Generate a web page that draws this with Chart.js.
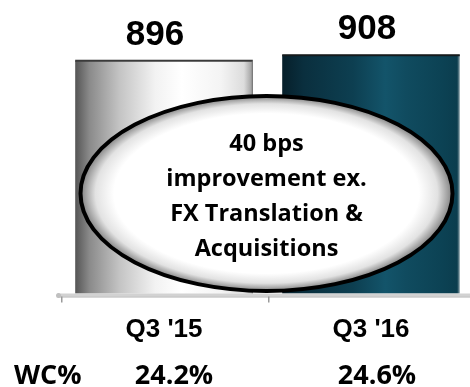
<!DOCTYPE html>
<html>
<head>
<meta charset="utf-8">
<script src="https://cdn.jsdelivr.net/npm/chart.js@4/dist/chart.umd.min.js"></script>
<style>
  html, body { margin: 0; padding: 0; background: #ffffff; overflow: hidden; }
  #wrap { position: relative; width: 480px; height: 387px; }
</style>
</head>
<body>
<div id="wrap"><canvas id="chart" width="480" height="387"></canvas></div>
<script>
// Working capital by quarter
const categories = ["Q3 '15", "Q3 '16"];
const workingCapital = [896, 908];
const wcPercent = ["24.2%", "24.6%"];
const rowLabel = "WC%";
const calloutLines = ["40 bps", "improvement ex.", "FX Translation &", "Acquisitions"];

const BODY_FONT = '"Open Sans", "Noto Sans", sans-serif';

function barGradient(ctx, left, right, stops) {
  const g = ctx.createLinearGradient(left, 0, right, 0);
  stops.forEach(s => g.addColorStop(s[0], s[1]));
  return g;
}

const greyStops = [
  [0, '#555555'], [0.08, '#8a8a8a'], [0.25, '#c4c4c4'], [0.45, '#f2f2f2'],
  [0.6, '#ffffff'], [0.82, '#f4f4f4'], [0.95, '#dcdcdc'], [1, '#9a9a9a']
];
const tealStops = [
  [0, '#061f2a'], [0.12, '#0a2f3e'], [0.4, '#0d3f51'], [0.58, '#13546a'],
  [0.7, '#104b5f'], [0.9, '#0c4254'], [0.985, '#0b3d4e'], [1, '#8aa0a8']
];

const fillPlugin = {
  id: 'barFill',
  beforeDatasetsDraw(chart) {
    const meta = chart.getDatasetMeta(0);
    meta.data.forEach((bar, i) => {
      const l = bar.x - bar.width / 2, r = bar.x + bar.width / 2;
      bar.options.backgroundColor = barGradient(chart.ctx, l, r, i === 0 ? greyStops : tealStops);
    });
  }
};

const decorPlugin = {
  id: 'decor',
  afterDatasetsDraw(chart) {
    const ctx = chart.ctx;
    const area = chart.chartArea;
    const xs = chart.scales.x;
    const ys = chart.scales.y;
    const meta = chart.getDatasetMeta(0);

    // dark top edge on each bar
    ctx.save();
    meta.data.forEach((bar, i) => {
      const l = bar.x - bar.width / 2;
      ctx.fillStyle = i === 0 ? '#3a3a3a' : '#151a1c';
      ctx.fillRect(l, bar.y - 1, bar.width, 2);
      if (i === 0) {
        ctx.fillStyle = '#707070';
        ctx.fillRect(l + bar.width - 1, bar.y, 1, area.bottom - bar.y);
      }
    });
    ctx.restore();

    // baseline axis
    ctx.save();
    const base = area.bottom;
    ctx.fillStyle = '#d2d2d2';
    ctx.fillRect(area.left - 3, base, 480, 3);
    ctx.fillStyle = '#b0b0b0';
    ctx.fillRect(area.left - 3, base + 3, 480, 1);
    ctx.beginPath();
    ctx.arc(area.left - 2, base + 2, 2.5, 0, Math.PI * 2);
    ctx.fillStyle = '#c0c0c0';
    ctx.fill();
    ctx.fillStyle = '#9a9a9a';
    const step = xs.getPixelForValue(1) - xs.getPixelForValue(0);
    for (let i = 0; i <= categories.length; i++) {
      const tx = Math.round(xs.getPixelForValue(0) - step / 2 + i * step);
      ctx.fillRect(tx, base + 3, 1.5, 6);
    }
    ctx.restore();

    // value labels, set slightly left of each bar's centre
    const labelShift = [-9, -4];
    ctx.save();
    ctx.font = 'bold 35px "Liberation Sans", Arial, sans-serif';
    ctx.fillStyle = '#000000';
    ctx.textAlign = 'center';
    ctx.textBaseline = 'alphabetic';
    workingCapital.forEach((v, i) => {
      ctx.fillText(String(v), xs.getPixelForValue(i) + labelShift[i], ys.getPixelForValue(v) - 16);
    });
    ctx.restore();

    // callout ellipse
    ctx.save();
    const cx = 266.5;
    const cy = 193.5;
    const rx = 186, ry = 97.5;
    ctx.save();
    ctx.translate(cx, cy);
    ctx.scale(1, ry / rx);
    const rg = ctx.createRadialGradient(0, 0, 0, 0, 0, rx);
    rg.addColorStop(0, '#ffffff');
    rg.addColorStop(0.82, '#ffffff');
    rg.addColorStop(0.92, '#e2e2e2');
    rg.addColorStop(1, '#808080');
    ctx.beginPath();
    ctx.arc(0, 0, rx, 0, Math.PI * 2);
    ctx.fillStyle = rg;
    ctx.fill();
    ctx.restore();
    ctx.beginPath();
    ctx.ellipse(cx, cy, rx, ry, 0, 0, Math.PI * 2);
    ctx.lineWidth = 4;
    ctx.strokeStyle = '#000000';
    ctx.stroke();

    ctx.font = '700 23.5px ' + BODY_FONT;
    ctx.fillStyle = '#000000';
    ctx.textAlign = 'center';
    ctx.textBaseline = 'alphabetic';
    calloutLines.forEach((t, i) => {
      ctx.fillText(t, cx, 151 + i * 35);
    });
    ctx.restore();

    // category labels and WC% row
    ctx.save();
    ctx.fillStyle = '#000000';
    ctx.textAlign = 'center';
    ctx.textBaseline = 'alphabetic';
    ctx.font = 'bold 26px "Liberation Sans", Arial, sans-serif';
    categories.forEach((c, i) => ctx.fillText(c, xs.getPixelForValue(i), 337));
    ctx.font = '700 27px ' + BODY_FONT;
    wcPercent.forEach((p, i) => ctx.fillText(p, xs.getPixelForValue(i) + (i === 0 ? 10 : 6), 384));
    ctx.textAlign = 'left';
    ctx.fillText(rowLabel, 14, 384);
    ctx.restore();
  }
};

new Chart(document.getElementById('chart'), {
  type: 'bar',
  data: {
    labels: categories,
    datasets: [{
      data: workingCapital,
      backgroundColor: ['#dddddd', '#0d4052'],
      borderWidth: 0,
      barPercentage: 0.858,
      categoryPercentage: 1.0
    }]
  },
  options: {
    responsive: false,
    animation: false,
    devicePixelRatio: 1,
    layout: { padding: { left: 60.5, right: 5.5, top: 31.4, bottom: 93.5 } },
    plugins: { legend: { display: false }, tooltip: { enabled: false } },
    scales: {
      x: { display: false },
      y: { display: false, min: 388, max: 960 }
    }
  },
  plugins: [fillPlugin, decorPlugin]
});
</script>
</body>
</html>
